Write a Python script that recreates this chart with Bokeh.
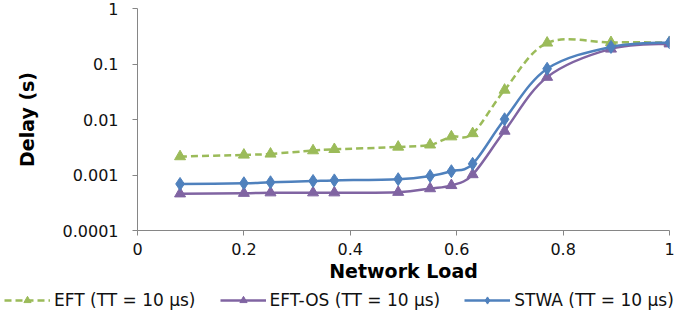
import numpy as np
from bokeh.plotting import figure
from bokeh.models import (ColumnDataSource, FixedTicker, Legend, LegendItem)
from bokeh.embed import file_html
from bokeh.resources import INLINE

# ---- data ----
load = [0.08, 0.20, 0.25, 0.33, 0.37, 0.49, 0.55, 0.59, 0.63, 0.69, 0.77, 0.89, 1.00]
eft = [0.00215, 0.0023, 0.0024, 0.00275, 0.0029, 0.0032, 0.0035, 0.0049, 0.0056, 0.034, 0.24, 0.245, 0.245]
eft_os = [0.00046, 0.00047, 0.00048, 0.00048, 0.00048, 0.00049, 0.00057, 0.00065, 0.00102, 0.0062, 0.058, 0.187, 0.232]
stwa = [0.00069, 0.00071, 0.00074, 0.00078, 0.0008, 0.00084, 0.00096, 0.00117, 0.00159, 0.0101, 0.082, 0.203, 0.245]

series_names = ["EFT (TT = 10 μs)", "EFT-OS (TT = 10 μs)", "STWA (TT = 10 μs)"]
x_ticks = [0, 0.2, 0.4, 0.6, 0.8, 1.0]
y_ticks = [0.0001, 0.001, 0.01, 0.1, 1]
y_tick_labels = ["0.0001", "0.001", "0.01", "0.1", "1"]

GREEN = "#9BBB59"
PURPLE = "#8064A2"
BLUE = "#4F81BD"
AXIS = "#868686"
FONT = "DejaVu Sans"


def smooth_source(xs, ys):
    """Bezier segments (Excel-like smoothing), control points in (x, log y) space."""
    xs = np.asarray(xs, float)
    ly = np.log10(np.asarray(ys, float))
    n = len(xs)
    d = dict(x0=[], y0=[], x1=[], y1=[], cx0=[], cy0=[], cx1=[], cy1=[])
    for i in range(n - 1):
        a = i - 1 if i > 0 else i
        b = i + 2 if i + 2 < n else i + 1
        c1x = xs[i] + (xs[i + 1] - xs[a]) / 6
        c1y = ly[i] + (ly[i + 1] - ly[a]) / 6
        c2x = xs[i + 1] - (xs[b] - xs[i]) / 6
        c2y = ly[i + 1] - (ly[b] - ly[i]) / 6
        d["x0"].append(float(xs[i])); d["y0"].append(float(10 ** ly[i]))
        d["x1"].append(float(xs[i + 1])); d["y1"].append(float(10 ** ly[i + 1]))
        d["cx0"].append(float(c1x)); d["cy0"].append(float(10 ** c1y))
        d["cx1"].append(float(c2x)); d["cy1"].append(float(10 ** c2y))
    return ColumnDataSource(d)


p = figure(frame_width=532, frame_height=222, x_range=(0, 1), y_range=(0.0001, 1),
           y_axis_type="log", output_backend="svg", toolbar_location=None,
           min_border_left=137, min_border_right=15, min_border_top=8,
           min_border_bottom=0)
p.outline_line_color = None
p.xgrid.visible = False
p.ygrid.visible = False

for ax in (p.xaxis[0], p.yaxis[0]):
    ax.axis_line_color = AXIS
    ax.axis_line_width = 1
    ax.major_tick_line_color = AXIS
    ax.major_tick_in = 0
    ax.major_tick_out = 5
    ax.minor_tick_line_color = None
    ax.major_label_text_font = FONT
    ax.major_label_text_font_size = "16px"
    ax.major_label_text_color = "#111111"
    ax.axis_label_text_font = FONT
    ax.axis_label_text_font_style = "bold"
    ax.axis_label_text_font_size = "19px"
    ax.axis_label_text_color = "#000000"

p.xaxis.ticker = FixedTicker(ticks=x_ticks)
p.yaxis.ticker = FixedTicker(ticks=y_ticks)
p.yaxis.major_label_overrides = {t: l for t, l in zip(y_ticks, y_tick_labels)}
p.xaxis.axis_label = "Network Load"
p.yaxis.axis_label = "Delay (s)"
p.xaxis.major_label_standoff = 7
p.yaxis.major_label_standoff = 14
p.xaxis.axis_label_standoff = 2
p.yaxis.axis_label_standoff = 22

# separate strip (own root, full-width frame) below the chart that holds the legend
lg = figure(width=684, height=34, x_range=(100, 101), y_range=(0.0001, 1),
            y_axis_type="log", output_backend="svg", toolbar_location=None,
            x_axis_location=None, y_axis_location=None,
            min_border=0)
lg.outline_line_color = None
lg.xgrid.visible = False
lg.ygrid.visible = False

items = []
specs = [
    (eft, GREEN, "7 4", "triangle", 11),
    (eft_os, PURPLE, "solid", "triangle", 11),
    (stwa, BLUE, "solid", "diamond", 13),
]
for name, (ys, col, dash, marker, size) in zip(series_names, specs):
    src = smooth_source(load, ys)
    pts = ColumnDataSource(dict(x=load, y=ys))
    line_kw = dict(x0="x0", y0="y0", x1="x1", y1="y1", cx0="cx0", cy0="cy0",
                   cx1="cx1", cy1="cy1", source=src, line_color=col,
                   line_width=2.5, line_dash=dash)
    mark_kw = dict(source=pts, marker=marker, size=size,
                   fill_color=col, line_color=col)
    p.bezier(**line_kw)
    p.scatter("x", "y", **mark_kw)
    # same series in the legend strip (outside its visible range)
    bz = lg.bezier(**line_kw)
    sc = lg.scatter("x", "y", **mark_kw)
    items.append(LegendItem(label=name, renderers=[bz, sc]))

legend = Legend(items=items, orientation="horizontal", location=(4, 8),
                label_text_font=FONT, label_text_font_size="17px",
                label_text_color="#111111", glyph_width=46, glyph_height=18,
                label_standoff=4, spacing=24, padding=0, margin=0,
                border_line_color=None, background_fill_alpha=0)
lg.add_layout(legend, "center")

open("out.html", "w").write(file_html([p, lg], INLINE))
